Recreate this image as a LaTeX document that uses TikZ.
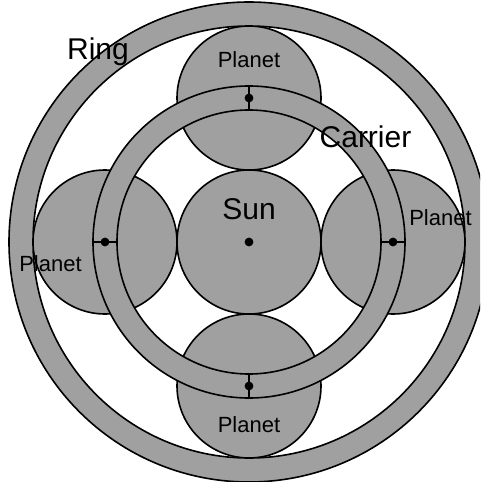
\documentclass[tikz,border=0pt]{standalone}
\usepackage{fontspec}
\setmainfont{Liberation Sans}
\usetikzlibrary{positioning,calc}

\begin{document}
\begin{tikzpicture}[
  x=0.75pt, y=-0.75pt, node distance=0pt, line width=1.2pt,
  gear/.style={draw, circle, fill=gearfill, minimum size=108pt, inner sep=0pt, outer sep=0pt},
  band/.style={draw, fill=gearfill, even odd rule},
  pivot/.style={circle, fill=black, minimum size=6.6pt, inner sep=0pt, outer sep=0pt},
  small/.style={font=\fontsize{16.5pt}{18pt}\selectfont, inner sep=0pt},
  big/.style={font=\fontsize{22.5pt}{25pt}\selectfont, inner sep=0pt},
]
\definecolor{gearfill}{HTML}{A0A0A0}
\useasboundingbox (0,0) rectangle (480,482);
\clip (0,0) rectangle (480,482);
% gears
\node[gear] (sun) at (249,242) {};
\node[gear, above=of sun] (ptop) {};
\node[gear, below=of sun] (pbot) {};
\node[gear, left=of sun] (pleft) {};
\node[gear, right=of sun] (pright) {};
% ring and carrier
\path[band] (sun.center) circle[radius=240] (sun.center) circle[radius=216];
\path[band] (sun.center) circle[radius=156] (sun.center) circle[radius=132];
% carrier arms
\draw ($(ptop.center)+(0,-9pt)$) -- ($(ptop.center)+(0,9pt)$);
\draw ($(pbot.center)+(0,-9pt)$) -- ($(pbot.center)+(0,9pt)$);
\draw ($(pleft.center)+(-9pt,0)$) -- ($(pleft.center)+(9pt,0)$);
\draw ($(pright.center)+(-9pt,0)$) -- ($(pright.center)+(9pt,0)$);
\node[pivot] (dsun) at (sun.center) {};
\node[pivot] (dtop) at (ptop.center) {};
\node[pivot] (dbot) at (pbot.center) {};
\node[pivot] (dleft) at (pleft.center) {};
\node[pivot] (dright) at (pright.center) {};
% labels
\node[big] (lring) at (98,52) {Ring};
\node[big] (lcarrier) at (365.5,137) {Carrier};
\node[big] (lsun) at (249,209) {Sun};
\node[small] (ltop) at (249,60) {Planet};
\node[small] (lbot) at (249,425) {Planet};
\node[small] (lleft) at (50.5,264) {Planet};
\node[small] (lright) at (440.5,218) {Planet};
\end{tikzpicture}
\end{document}
